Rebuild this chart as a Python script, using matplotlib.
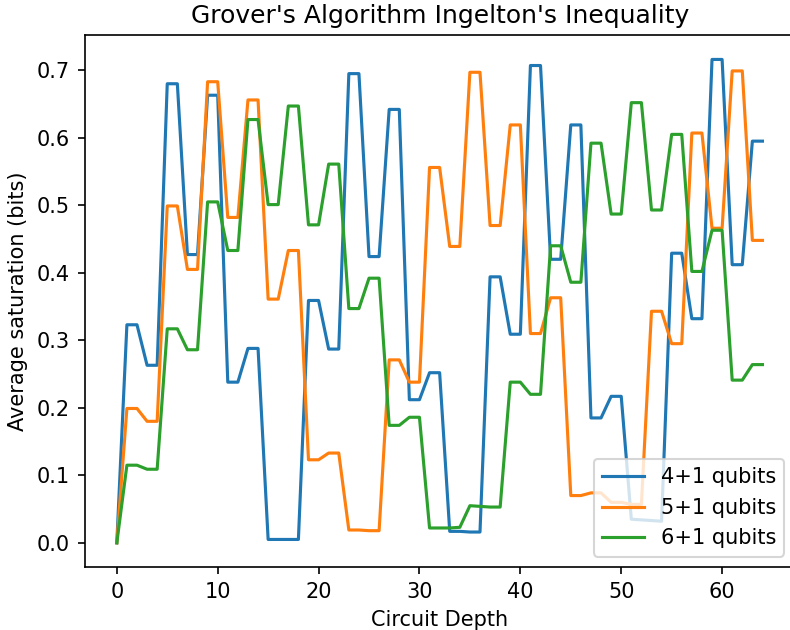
import matplotlib
matplotlib.use('Agg')
import matplotlib.pyplot as plt
import numpy as np

depth = np.arange(65)

# average saturation per circuit depth
sat_4 = [0.0,
         0.323, 0.323, 0.263, 0.263, 0.680, 0.680, 0.427, 0.427,
         0.663, 0.663, 0.238, 0.238, 0.288, 0.288, 0.005, 0.005,
         0.005, 0.005, 0.359, 0.359, 0.287, 0.287, 0.695, 0.695,
         0.424, 0.424, 0.642, 0.642, 0.212, 0.212, 0.252, 0.252,
         0.017, 0.017, 0.016, 0.016, 0.394, 0.394, 0.309, 0.309,
         0.707, 0.707, 0.420, 0.420, 0.619, 0.619, 0.185, 0.185,
         0.217, 0.217, 0.035, 0.034, 0.033, 0.032, 0.429, 0.429,
         0.332, 0.332, 0.716, 0.716, 0.412, 0.412, 0.595, 0.595]
sat_5 = [0.0,
         0.199, 0.199, 0.180, 0.180, 0.499, 0.499, 0.405, 0.405,
         0.683, 0.683, 0.482, 0.482, 0.656, 0.656, 0.361, 0.361,
         0.433, 0.433, 0.123, 0.123, 0.133, 0.133, 0.019, 0.019,
         0.018, 0.018, 0.271, 0.271, 0.238, 0.238, 0.556, 0.556,
         0.439, 0.439, 0.697, 0.697, 0.470, 0.470, 0.619, 0.619,
         0.310, 0.310, 0.363, 0.363, 0.070, 0.070, 0.074, 0.074,
         0.060, 0.060, 0.057, 0.057, 0.343, 0.343, 0.295, 0.295,
         0.607, 0.607, 0.466, 0.466, 0.699, 0.699, 0.448, 0.448]
sat_6 = [0.0,
         0.115, 0.115, 0.109, 0.109, 0.317, 0.317, 0.286, 0.286,
         0.505, 0.505, 0.433, 0.433, 0.627, 0.627, 0.501, 0.501,
         0.647, 0.647, 0.471, 0.471, 0.561, 0.561, 0.347, 0.347,
         0.392, 0.392, 0.174, 0.174, 0.186, 0.186, 0.022, 0.022,
         0.022, 0.023, 0.055, 0.054, 0.053, 0.053, 0.238, 0.238,
         0.220, 0.220, 0.440, 0.440, 0.386, 0.386, 0.592, 0.592,
         0.487, 0.487, 0.652, 0.652, 0.493, 0.493, 0.605, 0.605,
         0.402, 0.402, 0.463, 0.463, 0.241, 0.241, 0.264, 0.264]
labels = ['4+1 qubits', '5+1 qubits', '6+1 qubits']

fig = plt.figure(figsize=(790 / 150, 630 / 150), dpi=150)
# right spine sits just past the canvas edge, as in the reference
fig.subplots_adjust(left=0.107, right=1.006, bottom=0.100, top=0.944)
ax = fig.gca()
for s, lab in zip([sat_4, sat_5, sat_6], labels):
    ax.plot(depth, s, label=lab)

ax.set_title("Grover's Algorithm Ingelton's Inequality")
ax.set_xlabel('Circuit Depth')
ax.set_ylabel('Average saturation (bits)')
ax.legend(loc='lower right')
fig.savefig('out.png', dpi=150)
